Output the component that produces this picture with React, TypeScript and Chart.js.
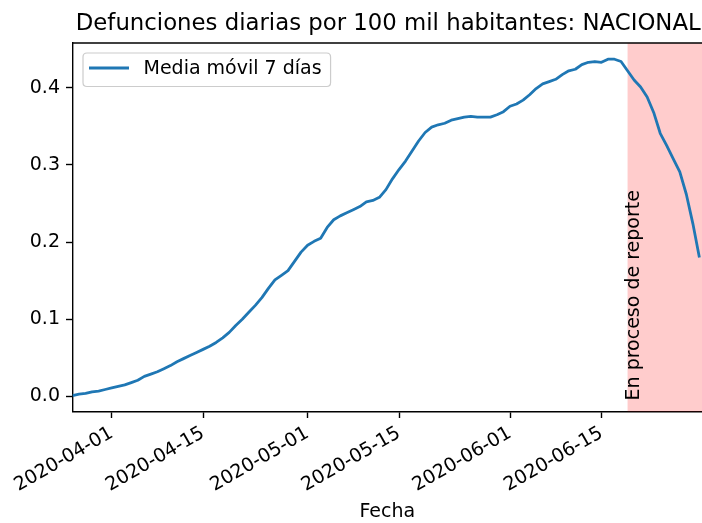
import React, { useEffect, useRef } from "react";
import { Chart, registerables } from "chart.js";

Chart.register(...registerables);

const TITLE = "Defunciones diarias por 100 mil habitantes: NACIONAL";
const X_LABEL = "Fecha";
const SERIES_LABEL = "Media móvil 7 días";
const REPORT_LABEL = "En proceso de reporte";

const START_DATE = "2020-03-26";
const REPORT_START = "2020-06-19";
const X_MAX_DATE_OFFSET = 96.4;

const MOVING_AVG = [
  0.001, 0.003, 0.004, 0.006, 0.007, 0.009,
  0.011, 0.013, 0.015, 0.018, 0.021, 0.026, 0.029, 0.032, 0.036, 0.04,
  0.045, 0.049, 0.053, 0.057, 0.061, 0.065, 0.07, 0.076, 0.083, 0.092,
  0.1, 0.109, 0.118, 0.128, 0.14, 0.151, 0.157, 0.163, 0.175, 0.187,
  0.196, 0.201, 0.205, 0.219, 0.229, 0.234, 0.238, 0.242, 0.246, 0.252,
  0.254, 0.258, 0.268, 0.282, 0.294, 0.305, 0.318, 0.331, 0.342, 0.349,
  0.352, 0.354, 0.358, 0.36, 0.362, 0.363, 0.362, 0.362, 0.362, 0.365,
  0.369, 0.376, 0.379, 0.384, 0.391, 0.399, 0.405, 0.408, 0.411, 0.417,
  0.422, 0.424, 0.43, 0.433, 0.434, 0.433, 0.437, 0.437, 0.434, 0.422,
  0.41, 0.401, 0.388, 0.368, 0.341, 0.325, 0.308, 0.291, 0.262, 0.224,
  0.18,
];

const X_TICK_DATES = [
  "2020-04-01",
  "2020-04-15",
  "2020-05-01",
  "2020-05-15",
  "2020-06-01",
  "2020-06-15",
];
const Y_TICKS = [0, 0.1, 0.2, 0.3, 0.4];
const Y_MIN = -0.0195;
const Y_MAX = 0.458;

const FONT = '"DejaVu Sans", sans-serif';
const LINE_COLOR = "#1f77b4";
const TICK_SIZE = 19;
const TITLE_SIZE = 22.8;

const dayIndex = (d: string) =>
  Math.round((Date.parse(d + "T00:00:00Z") - Date.parse(START_DATE + "T00:00:00Z")) / 86400000);

export default function App() {
  const ref = useRef<HTMLCanvasElement | null>(null);

  useEffect(() => {
    if (!ref.current) return;
    const points = MOVING_AVG.map((v, i) => ({ x: i, y: v }));
    const tickIdx = X_TICK_DATES.map(dayIndex);
    const reportIdx = dayIndex(REPORT_START);

    const decor = {
      id: "decor",
      beforeDatasetsDraw(chart: any) {
        const { ctx, chartArea } = chart;
        const xs = chart.scales.x;
        const x0 = xs.getPixelForValue(reportIdx);
        ctx.save();
        ctx.fillStyle = "rgba(255,0,0,0.2)";
        ctx.fillRect(x0, chartArea.top, chartArea.right - x0, chartArea.bottom - chartArea.top);
        const ys = chart.scales.y;
        ctx.fillStyle = "#000";
        ctx.font = `${TICK_SIZE}px ${FONT}`;
        ctx.translate(x0 - 3, ys.getPixelForValue(0) + 4);
        ctx.rotate(-Math.PI / 2);
        ctx.textAlign = "left";
        ctx.textBaseline = "top";
        ctx.fillText(REPORT_LABEL, 0, 0);
        ctx.restore();
      },
      afterDatasetsDraw(chart: any) {
        const { ctx, chartArea } = chart;
        ctx.save();
        ctx.font = `${TICK_SIZE}px ${FONT}`;
        const tw = ctx.measureText(SERIES_LABEL).width;
        const bx = chartArea.left + 10.5;
        const by = chartArea.top + 10;
        const bw = 60.5 + tw + 9;
        const bh = 33.5;
        const r = 4;
        ctx.beginPath();
        ctx.moveTo(bx + r, by);
        ctx.lineTo(bx + bw - r, by);
        ctx.quadraticCurveTo(bx + bw, by, bx + bw, by + r);
        ctx.lineTo(bx + bw, by + bh - r);
        ctx.quadraticCurveTo(bx + bw, by + bh, bx + bw - r, by + bh);
        ctx.lineTo(bx + r, by + bh);
        ctx.quadraticCurveTo(bx, by + bh, bx, by + bh - r);
        ctx.lineTo(bx, by + r);
        ctx.quadraticCurveTo(bx, by, bx + r, by);
        ctx.closePath();
        ctx.fillStyle = "rgba(255,255,255,0.8)";
        ctx.fill();
        ctx.strokeStyle = "#cccccc";
        ctx.lineWidth = 1.2;
        ctx.stroke();
        const ly = by + 15;
        ctx.beginPath();
        ctx.moveTo(bx + 6, ly);
        ctx.lineTo(bx + 46, ly);
        ctx.strokeStyle = LINE_COLOR;
        ctx.lineWidth = 2.8;
        ctx.stroke();
        ctx.fillStyle = "#000";
        ctx.textAlign = "left";
        ctx.textBaseline = "middle";
        ctx.fillText(SERIES_LABEL, bx + 60.5, ly + 1);
        ctx.restore();
      },
      afterDraw(chart: any) {
        const { ctx, chartArea } = chart;
        ctx.save();
        ctx.strokeStyle = "#000";
        ctx.lineWidth = 1.4;
        ctx.beginPath();
        ctx.moveTo(chartArea.left, chartArea.top);
        ctx.lineTo(chartArea.right, chartArea.top);
        ctx.stroke();
        ctx.fillStyle = "#000";
        ctx.font = `${TITLE_SIZE}px ${FONT}`;
        ctx.textAlign = "center";
        ctx.textBaseline = "alphabetic";
        ctx.fillText(TITLE, (chartArea.left + chartArea.right) / 2 + 1, 30);
        ctx.restore();
      },
    };

    const chart = new Chart(ref.current, {
      type: "line",
      data: {
        datasets: [
          {
            label: SERIES_LABEL,
            data: points,
            borderColor: LINE_COLOR,
            borderWidth: 2.8,
            pointRadius: 0,
            tension: 0,
            fill: false,
            borderJoinStyle: "round",
          },
        ],
      },
      options: {
        animation: false,
        responsive: false,
        devicePixelRatio: 1,
        parsing: false,
        layout: { padding: { top: 43, left: 0, right: 0, bottom: 0 } },
        plugins: {
          legend: { display: false },
          title: { display: false },
          tooltip: { enabled: false },
        },
        scales: {
          x: {
            type: "linear",
            min: 0,
            max: X_MAX_DATE_OFFSET,
            afterBuildTicks: (s: any) => {
              s.ticks = tickIdx.map((v) => ({ value: v }));
            },
            afterFit: (s: any) => {
              s.height = 111.5;
            },
            ticks: {
              autoSkip: false,
              minRotation: 30,
              maxRotation: 30,
              padding: 4,
              color: "#000",
              font: { family: FONT, size: TICK_SIZE },
              callback: (v: any) => {
                const i = tickIdx.indexOf(v);
                return i >= 0 ? X_TICK_DATES[i] : "";
              },
            },
            grid: {
              drawOnChartArea: false,
              drawTicks: true,
              tickLength: 6.5,
              tickColor: "#000",
              tickWidth: 1.4,
            },
            border: { display: true, color: "#000", width: 1.4 },
            title: {
              display: true,
              text: X_LABEL,
              color: "#000",
              font: { family: FONT, size: TICK_SIZE },
              padding: { top: 0, bottom: 0 },
            },
          },
          y: {
            type: "linear",
            min: Y_MIN,
            max: Y_MAX,
            afterBuildTicks: (s: any) => {
              s.ticks = Y_TICKS.map((v) => ({ value: v }));
            },
            afterFit: (s: any) => {
              s.width = 72.5;
            },
            ticks: {
              padding: 6,
              color: "#000",
              font: { family: FONT, size: TICK_SIZE },
              callback: (v: any) => Number(v).toFixed(1),
            },
            grid: {
              drawOnChartArea: false,
              drawTicks: true,
              tickLength: 6.5,
              tickColor: "#000",
              tickWidth: 1.4,
            },
            border: { display: true, color: "#000", width: 1.4 },
          },
        },
      },
      plugins: [decor],
    } as any);

    return () => chart.destroy();
  }, []);

  return (
    <div style={{ position: "fixed", left: 0, top: 0, width: 702, height: 523, background: "#fff" }}>
      <canvas ref={ref} width={702} height={523} style={{ display: "block" }} />
    </div>
  );
}
